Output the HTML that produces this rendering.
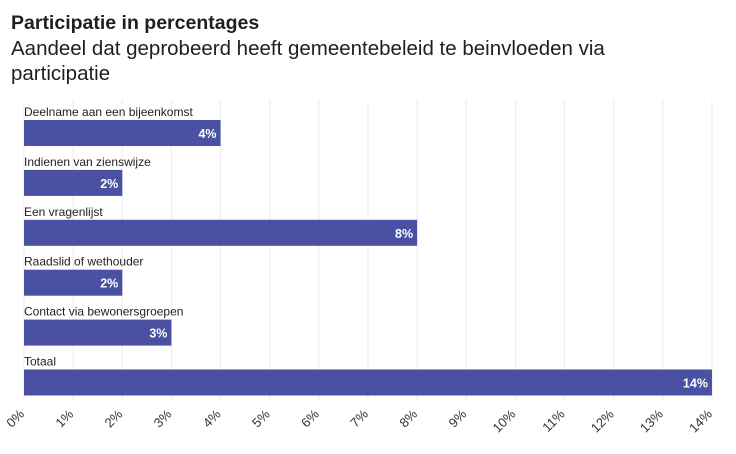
<!DOCTYPE html>
<html><head><meta charset="utf-8"><style>
body{margin:0;background:#fff;font-family:"Liberation Sans",sans-serif;}
svg{display:block}
</style></head><body>
<svg width="736" height="454">
<text x="11" y="29" font-size="19.5" font-weight="bold" fill="#1f1f1f">Participatie in percentages</text>
<text x="11" y="55" font-size="20.5" fill="#1f1f1f">Aandeel dat geprobeerd heeft gemeentebeleid te beinvloeden via</text>
<text x="11" y="80" font-size="20.5" fill="#1f1f1f">participatie</text>
<g id="grid"></g><g id="bars"></g><g id="ticks"></g>
</svg>
<script>
const categories=["Deelname aan een bijeenkomst","Indienen van zienswijze","Een vragenlijst","Raadslid of wethouder","Contact via bewonersgroepen","Totaal"];
const values=[4,2,8,2,3,14];
const tickValues=[0,1,2,3,4,5,6,7,8,9,10,11,12,13,14];
const NS="http://www.w3.org/2000/svg";
const x=v=>24+v*49.14;
const y=i=>120+i*49.9;
function mk(t,a,p){const e=document.createElementNS(NS,t);for(const k in a)e.setAttribute(k,a[k]);p.appendChild(e);return e;}
const g=document.getElementById('grid'),b=document.getElementById('bars'),tk=document.getElementById('ticks');
tickValues.forEach(v=>{
 const l=mk('line',{x1:x(v),x2:x(v),y1:100,y2:400,stroke:'#ececec','stroke-width':1},g);
 
 
 const ax=x(v)+1, ay=415;
 const t=mk('text',{x:ax,y:ay,'font-size':13,fill:'#333','text-anchor':'end',transform:`rotate(-45 ${ax} ${ay})`},tk);
 t.textContent=v+'%';
 
 
});
categories.forEach((c,i)=>{
 const lb=mk('text',{x:24,y:y(i)-4,'font-size':12,fill:'#222'},b);
 lb.textContent=c;
 
 
 const r=mk('rect',{x:x(0),y:y(i),width:x(values[i])-x(0),height:26,fill:'#4a51a3'},b);
 
 
 const vl=mk('text',{x:x(values[i])-4,y:y(i)+18,'font-size':12.5,'font-weight':'bold',fill:'#fff','text-anchor':'end'},b);
 vl.textContent=values[i]+'%';
 
 
});
</script>
</body></html>
